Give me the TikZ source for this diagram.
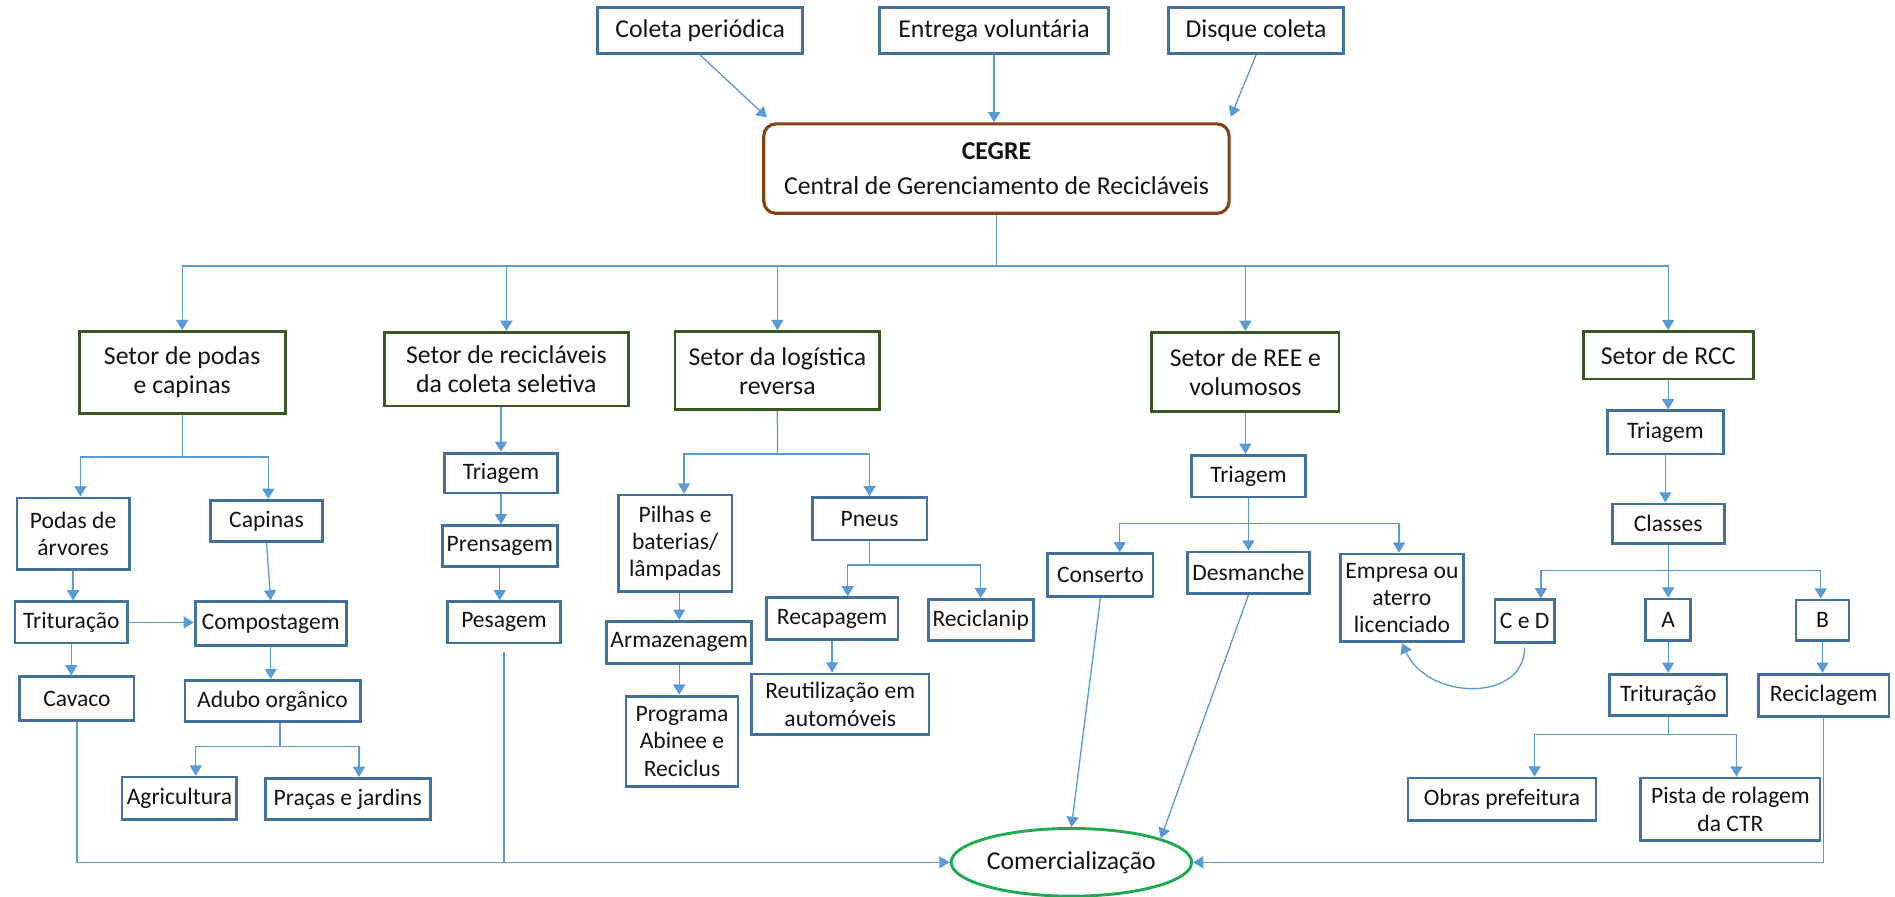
\documentclass[tikz,border=0pt]{standalone}
\usepackage{fontspec}
\setmainfont{Carlito}
\usetikzlibrary{arrows.meta,shapes.geometric}

\definecolor{linec}{RGB}{91,155,213}
\definecolor{boxblue}{RGB}{65,113,156}
\definecolor{boxgreen}{RGB}{56,87,35}
\definecolor{cegrebrown}{RGB}{133,66,22}
\definecolor{comgreen}{RGB}{30,170,80}
\definecolor{txt}{RGB}{20,20,20}

\newcommand{\fbig}{\fontsize{21.3pt}{24pt}\selectfont}
\newcommand{\fsmall}{\fontsize{19.5pt}{22.5pt}\selectfont}

\tikzset{
  conn/.style={draw=linec, line width=1.1pt},
  arr/.style={conn, -{Triangle[length=8.5pt,width=10pt]}},
  sz/.style 2 args={minimum width=#1pt, minimum height=#2pt},
  bx/.style={draw=boxblue, line width=2.3pt, inner sep=0pt, align=center,
             font=\fsmall, text=txt},
  sector/.style={bx, draw=boxgreen, font=\fbig},
  source/.style={bx, font=\fbig},
}

\begin{document}
\begin{tikzpicture}[x=1pt,y=-1pt]
\fill[white] (0,0) rectangle (1568,742);
\useasboundingbox (0,0) rectangle (1568,742);

% collection channels
\node[source, sz={170}{38}] (cp) at (579.3,25.4) {Coleta periódica};
\node[source, sz={189}{38}] (ev) at (822.5,25.4) {Entrega voluntária};
\node[source, sz={145}{38}] (dc) at (1039.3,25.4) {Disque coleta};

% central unit
\node[draw=cegrebrown, line width=2.6pt, rounded corners=10pt, sz={385}{74},
      inner sep=0pt, align=center, font=\fbig, text=txt] (cegre) at (824.5,139.5)
      {\textbf{CEGRE}\\[5pt]Central de Gerenciamento de Recicláveis};

% sectors
\node[sector, sz={170.5}{67.6}] (s1) at (150.75,308.2) {Setor de podas\\e capinas};
\node[sector, sz={202}{61}] (s2) at (419,305.5) {Setor de recicláveis\\da coleta seletiva};
\node[sector, sz={169.5}{64.6}] (s3) at (643.2,306.7) {Setor da logística\\reversa};
\node[sector, sz={155}{65.6}] (s4) at (1030.5,307.8) {Setor de REE e\\volumosos};
\node[sector, sz={140.6}{39.2}] (s5) at (1380.3,294) {Setor de RCC};

% pruning and weeding
\node[bx, sz={93}{59}] (pod) at (60.5,441.5) {Podas de\\árvores};
\node[bx, sz={93}{34}] (cap) at (220.5,431) {Capinas};
\node[bx, sz={93}{34}] (tri1) at (59,515) {Trituração};
\node[bx, sz={125}{36}] (comp) at (224,516) {Compostagem};
\node[bx, sz={94.5}{36}] (cav) at (63.7,578) {Cavaco};
\node[bx, sz={145}{34}] (adu) at (225.5,580) {Adubo orgânico};
\node[bx, sz={95}{35}] (agr) at (148.5,660.5) {Agricultura};
\node[bx, sz={136.5}{34}] (pra) at (287.7,661) {Praças e jardins};

% selective collection
\node[bx, sz={93}{33}] (tr1) at (414.5,391.5) {Triagem};
\node[bx, sz={95}{34}] (pren) at (413.5,452) {Prensagem};
\node[bx, sz={93}{34}] (pes) at (417,515) {Pesagem};

% reverse logistics
\node[bx, sz={94}{80}] (pil) at (558.6,449.6) {Pilhas e\\baterias/\\lâmpadas};
\node[bx, sz={95}{35}] (pneus) at (719.5,429.3) {Pneus};
\node[bx, sz={120}{35}] (arm) at (562,531.5) {Armazenagem};
\node[bx, sz={92.6}{75}] (prog) at (564.3,613.5) {Programa\\Abinee e\\Reciclus};
\node[bx, sz={109}{34.5}] (recap) at (688.5,511.8) {Recapagem};
\node[bx, sz={87}{34}] (recl) at (811.5,513) {Reciclanip};
\node[bx, sz={146.7}{50.3}] (reut) at (695.3,582.8) {Reutilização em\\automóveis};

% electronics and bulky waste
\node[bx, sz={94}{34.5}] (tr2) at (1033,394) {Triagem};
\node[bx, sz={87}{35.5}] (cons) at (910.5,476) {Conserto};
\node[bx, sz={101}{34.5}] (desm) at (1033,474) {Desmanche};
\node[bx, sz={102}{72.5}] (emp) at (1160,494.7) {Empresa ou\\aterro\\licenciado};

% construction waste
\node[bx, sz={96}{35.7}] (tr3) at (1378,357.8) {Triagem};
\node[bx, sz={92.6}{32.5}] (cls) at (1380.3,433.2) {Classes};
\node[bx, sz={49}{35.5}] (ced) at (1261.5,514) {C e D};
\node[bx, sz={37.4}{34.4}] (a) at (1380.3,512.8) {A};
\node[bx, sz={44}{33.5}] (b) at (1508,513.2) {B};
\node[bx, sz={97}{34.3}] (tr4) at (1380.5,575) {Trituração};
\node[bx, sz={108}{35}] (recg) at (1509,575.4) {Reciclagem};
\node[bx, sz={155.6}{35.2}] (obr) at (1242.8,661.4) {Obras prefeitura};
\node[bx, sz={148.4}{51.8}] (pista) at (1431.8,669.7) {Pista de rolagem\\da CTR};

% final destination
\node[ellipse, draw=comgreen, line width=2.4pt, sz={199}{56}, inner sep=0pt,
      font=\fbig, text=txt] (com) at (886.5,713.5) {Comercialização};

% junction points
\coordinate (jm) at (824.5,220);
\coordinate (j1) at (150.75,378);
\coordinate (ja) at (231.8,617.8);
\coordinate (jl) at (643.4,375.7);
\coordinate (jp) at (719.5,467.5);
\coordinate (jr) at (1033,433);
\coordinate (jc) at (1380.3,472);
\coordinate (jt) at (1380.5,608);

% channels into the central unit
\draw[arr] (cp.south) -- ([xshift=4pt,yshift=4pt]cegre.north west);
\draw[arr] (ev.south) -- (ev.south |- cegre.north);
\draw[arr] (dc.south) -- ([yshift=4.5pt]cegre.north east);

% central unit to sectors
\draw[conn] (cegre.south) -- (jm);
\foreach \s in {s1,s2,s3,s4,s5} \draw[arr] (jm) -| (\s.north);

% pruning and weeding flow
\draw[conn] (s1.south) -- (j1);
\draw[arr] (j1) -| ([xshift=6pt]pod.north);
\draw[arr] (j1) -| ([xshift=1.5pt]cap.north);
\draw[arr] (pod.south) -- (pod.south |- tri1.north);
\draw[arr] (tri1.east) -- (tri1.east -| comp.west);
\draw[arr] (cap.south) -- (comp.north);
\draw[arr] (tri1.south) -- (tri1.south |- cav.north);
\draw[arr] (comp.south) -- (comp.south |- adu.north);
\draw[conn] (adu.south -| ja) -- (ja);
\draw[arr] (ja) -| ([xshift=13.5pt]agr.north);
\draw[arr] (ja) -| ([xshift=9.3pt]pra.north);
\draw[arr] (cav.south) |- (com.west);

% selective collection flow
\draw[arr] (tr1.north |- s2.south) -- (tr1.north);
\draw[arr] (tr1.south) -- (tr1.south |- pren.north);
\draw[arr] (pren.south) -- (pren.south |- pes.north);
\draw[conn] ([yshift=-6pt]pes.south) -- (pes.south |- com.west);

% reverse logistics flow
\draw[conn] (s3.south) -- (jl);
\draw[arr] (jl) -| ([xshift=7.4pt]pil.north);
\draw[arr] (jl) -| (pneus.north);
\draw[arr] (pil.south -| arm.north) -- (arm.north);
\draw[arr] (arm.south) -- (arm.south |- prog.north);
\draw[conn] (pneus.south) -- (jp);
\draw[arr] (jp) -| ([xshift=13pt]recap.north);
\draw[arr] (jp) -| (recl.north);
\draw[arr] (recap.south) -- (recap.south |- reut.north);

% electronics and bulky waste flow
\draw[arr] (s4.south) -- (s4.south |- tr2.north);
\draw[conn] (tr2.south) -- (jr);
\draw[arr] (jr) -| ([xshift=16pt]cons.north);
\draw[arr] (jr) -- (jr |- desm.north);
\draw[arr] (jr) -| ([xshift=-2.4pt]emp.north);
\draw[arr] (cons.south) -- (com.north);
\draw[arr] (desm.south) -- (com.15);
\draw[arr] ([yshift=-3pt]ced.south) .. controls +(0,45) and +(22,48) .. (emp.south);

% construction waste flow
\draw[arr] (s5.south) -- (s5.south |- tr3.north);
\draw[arr] (tr3.south) -- (tr3.south |- cls.north);
\draw[conn] (cls.south) -- (jc);
\draw[arr] (jc) -| ([xshift=13.5pt]ced.north);
\draw[arr] (jc) -- (jc |- a.north);
\draw[arr] (jc) -| ([xshift=-1.5pt]b.north);
\draw[arr] (a.south) -- (a.south |- tr4.north);
\draw[arr] (b.south) -- (b.south |- recg.north);
\draw[conn] (tr4.south) -- (jt);
\draw[arr] (jt) -| ([xshift=27pt]obr.north);
\draw[arr] (jt) -| ([xshift=5pt]pista.north);
\draw[arr] (recg.south) |- (com.east);
\end{tikzpicture}
\end{document}
